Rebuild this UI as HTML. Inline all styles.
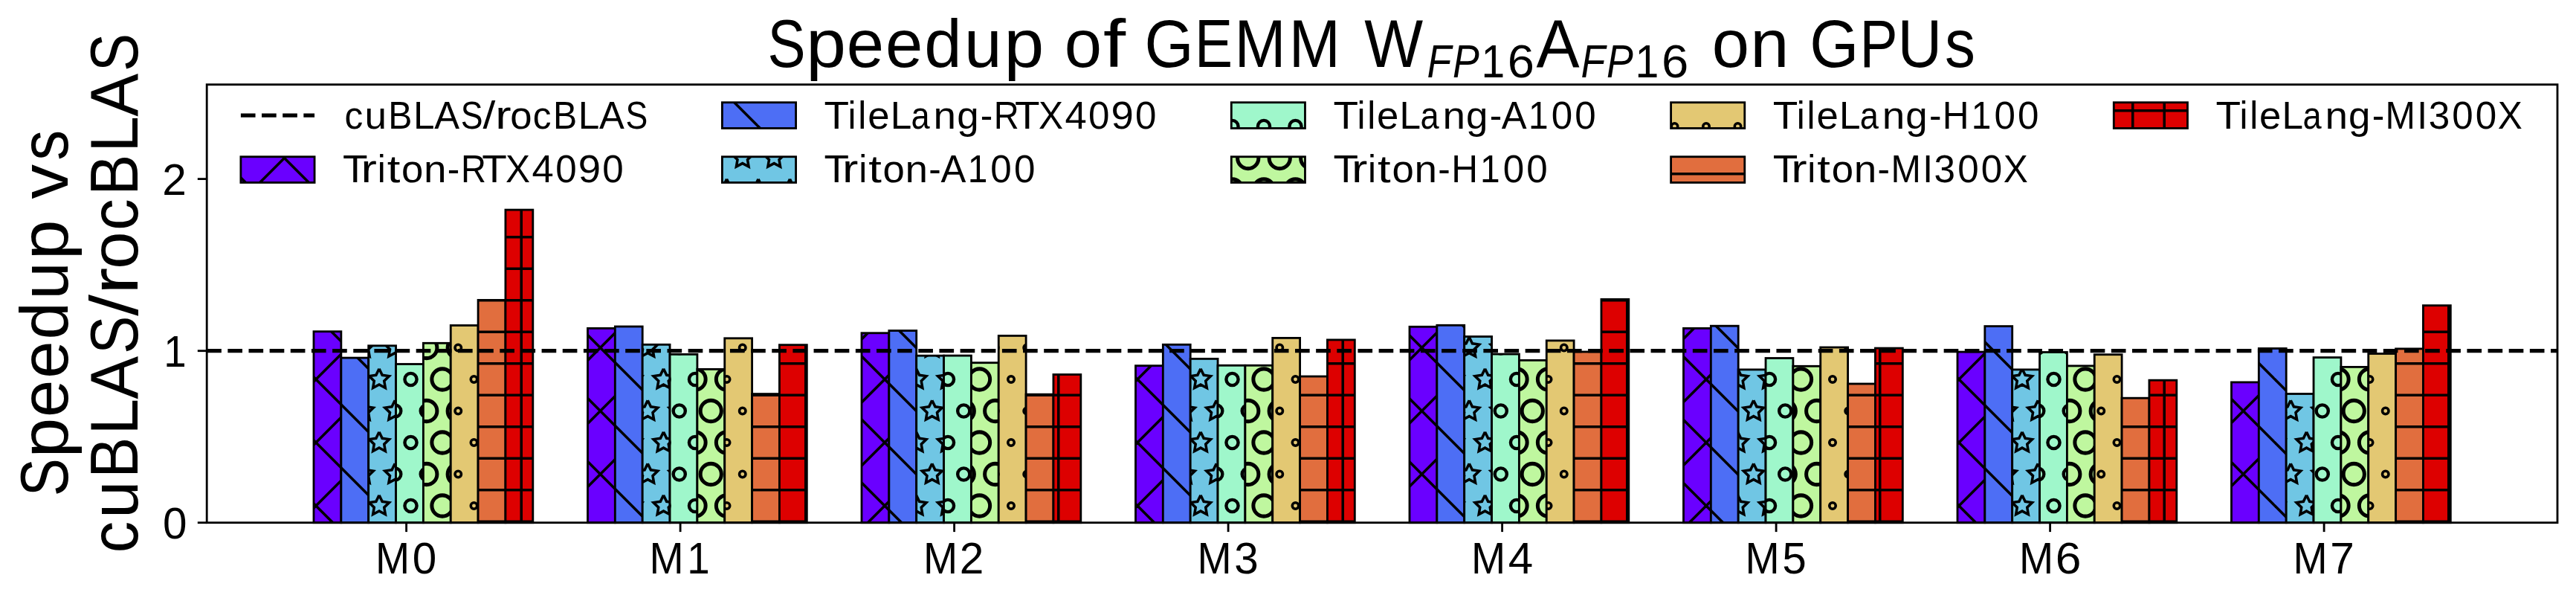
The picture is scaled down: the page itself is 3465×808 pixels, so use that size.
<!DOCTYPE html>
<html><head><meta charset="utf-8"><title>Speedup of GEMM on GPUs</title>
<style>
html,body{margin:0;padding:0;background:#fff;}
body{width:3465px;height:808px;overflow:hidden;}
svg{display:block;}
text{font-family:"Liberation Sans",sans-serif;fill:#000;white-space:pre;}
</style></head><body>
<svg width="3465" height="808" viewBox="0 0 3465 808">
<defs>
<pattern id="x" patternUnits="userSpaceOnUse" x="0" y="0" width="255" height="255"><g fill="none" stroke="#000" stroke-width="3.54" stroke-linecap="butt" stroke-linejoin="miter"><path d="M-65 -20L-360 275"/><path d="M20 -20L-275 275"/><path d="M105 -20L-190 275"/><path d="M190 -20L-105 275"/><path d="M275 -20L-20 275"/><path d="M360 -20L65 275"/><path d="M445 -20L150 275"/><path d="M530 -20L235 275"/><path d="M615 -20L320 275"/><path d="M-20 -360L275 -65"/><path d="M-20 -275L275 20"/><path d="M-20 -190L275 105"/><path d="M-20 -105L275 190"/><path d="M-20 -20L275 275"/><path d="M-20 65L275 360"/><path d="M-20 150L275 445"/><path d="M-20 235L275 530"/><path d="M-20 320L275 615"/></g></pattern><pattern id="bs" patternUnits="userSpaceOnUse" x="0" y="0" width="255" height="255"><g fill="none" stroke="#000" stroke-width="3.54" stroke-linecap="butt" stroke-linejoin="miter"><path d="M-20 -360L275 -65"/><path d="M-20 -275L275 20"/><path d="M-20 -190L275 105"/><path d="M-20 -105L275 190"/><path d="M-20 -20L275 275"/><path d="M-20 65L275 360"/><path d="M-20 150L275 445"/><path d="M-20 235L275 530"/><path d="M-20 320L275 615"/></g></pattern><pattern id="star" patternUnits="userSpaceOnUse" x="0" y="0" width="255" height="255"><g fill="none" stroke="#000" stroke-width="3.54" stroke-linecap="butt" stroke-linejoin="miter"><path d="M0 -14.17L-4.16 -5.73L-13.47 -4.38L-6.74 2.19L-8.33 11.46L-0 7.08L8.33 11.46L6.74 2.19L13.47 -4.38L4.16 -5.73L0 -14.17"/><path d="M42.5 -14.17L38.34 -5.73L29.03 -4.38L35.76 2.19L34.17 11.46L42.5 7.08L50.83 11.46L49.24 2.19L55.97 -4.38L46.66 -5.73L42.5 -14.17"/><path d="M85 -14.17L80.84 -5.73L71.53 -4.38L78.26 2.19L76.67 11.46L85 7.08L93.33 11.46L91.74 2.19L98.47 -4.38L89.16 -5.73L85 -14.17"/><path d="M127.5 -14.17L123.34 -5.73L114.03 -4.38L120.76 2.19L119.17 11.46L127.5 7.08L135.83 11.46L134.24 2.19L140.97 -4.38L131.66 -5.73L127.5 -14.17"/><path d="M170 -14.17L165.84 -5.73L156.53 -4.38L163.26 2.19L161.67 11.46L170 7.08L178.33 11.46L176.74 2.19L183.47 -4.38L174.16 -5.73L170 -14.17"/><path d="M212.5 -14.17L208.34 -5.73L199.03 -4.38L205.76 2.19L204.17 11.46L212.5 7.08L220.83 11.46L219.24 2.19L225.97 -4.38L216.66 -5.73L212.5 -14.17"/><path d="M255 -14.17L250.84 -5.73L241.53 -4.38L248.26 2.19L246.67 11.46L255 7.08L263.33 11.46L261.74 2.19L268.47 -4.38L259.16 -5.73L255 -14.17"/><path d="M21.25 28.33L17.09 36.77L7.78 38.12L14.51 44.69L12.92 53.96L21.25 49.58L29.58 53.96L27.99 44.69L34.72 38.12L25.41 36.77L21.25 28.33"/><path d="M63.75 28.33L59.59 36.77L50.28 38.12L57.01 44.69L55.42 53.96L63.75 49.58L72.08 53.96L70.49 44.69L77.22 38.12L67.91 36.77L63.75 28.33"/><path d="M106.25 28.33L102.09 36.77L92.78 38.12L99.51 44.69L97.92 53.96L106.25 49.58L114.58 53.96L112.99 44.69L119.72 38.12L110.41 36.77L106.25 28.33"/><path d="M148.75 28.33L144.59 36.77L135.28 38.12L142.01 44.69L140.42 53.96L148.75 49.58L157.08 53.96L155.49 44.69L162.22 38.12L152.91 36.77L148.75 28.33"/><path d="M191.25 28.33L187.09 36.77L177.78 38.12L184.51 44.69L182.92 53.96L191.25 49.58L199.58 53.96L197.99 44.69L204.72 38.12L195.41 36.77L191.25 28.33"/><path d="M233.75 28.33L229.59 36.77L220.28 38.12L227.01 44.69L225.42 53.96L233.75 49.58L242.08 53.96L240.49 44.69L247.22 38.12L237.91 36.77L233.75 28.33"/><path d="M0 70.83L-4.16 79.27L-13.47 80.62L-6.74 87.19L-8.33 96.46L-0 92.08L8.33 96.46L6.74 87.19L13.47 80.62L4.16 79.27L0 70.83"/><path d="M42.5 70.83L38.34 79.27L29.03 80.62L35.76 87.19L34.17 96.46L42.5 92.08L50.83 96.46L49.24 87.19L55.97 80.62L46.66 79.27L42.5 70.83"/><path d="M85 70.83L80.84 79.27L71.53 80.62L78.26 87.19L76.67 96.46L85 92.08L93.33 96.46L91.74 87.19L98.47 80.62L89.16 79.27L85 70.83"/><path d="M127.5 70.83L123.34 79.27L114.03 80.62L120.76 87.19L119.17 96.46L127.5 92.08L135.83 96.46L134.24 87.19L140.97 80.62L131.66 79.27L127.5 70.83"/><path d="M170 70.83L165.84 79.27L156.53 80.62L163.26 87.19L161.67 96.46L170 92.08L178.33 96.46L176.74 87.19L183.47 80.62L174.16 79.27L170 70.83"/><path d="M212.5 70.83L208.34 79.27L199.03 80.62L205.76 87.19L204.17 96.46L212.5 92.08L220.83 96.46L219.24 87.19L225.97 80.62L216.66 79.27L212.5 70.83"/><path d="M255 70.83L250.84 79.27L241.53 80.62L248.26 87.19L246.67 96.46L255 92.08L263.33 96.46L261.74 87.19L268.47 80.62L259.16 79.27L255 70.83"/><path d="M21.25 113.33L17.09 121.77L7.78 123.12L14.51 129.69L12.92 138.96L21.25 134.58L29.58 138.96L27.99 129.69L34.72 123.12L25.41 121.77L21.25 113.33"/><path d="M63.75 113.33L59.59 121.77L50.28 123.12L57.01 129.69L55.42 138.96L63.75 134.58L72.08 138.96L70.49 129.69L77.22 123.12L67.91 121.77L63.75 113.33"/><path d="M106.25 113.33L102.09 121.77L92.78 123.12L99.51 129.69L97.92 138.96L106.25 134.58L114.58 138.96L112.99 129.69L119.72 123.12L110.41 121.77L106.25 113.33"/><path d="M148.75 113.33L144.59 121.77L135.28 123.12L142.01 129.69L140.42 138.96L148.75 134.58L157.08 138.96L155.49 129.69L162.22 123.12L152.91 121.77L148.75 113.33"/><path d="M191.25 113.33L187.09 121.77L177.78 123.12L184.51 129.69L182.92 138.96L191.25 134.58L199.58 138.96L197.99 129.69L204.72 123.12L195.41 121.77L191.25 113.33"/><path d="M233.75 113.33L229.59 121.77L220.28 123.12L227.01 129.69L225.42 138.96L233.75 134.58L242.08 138.96L240.49 129.69L247.22 123.12L237.91 121.77L233.75 113.33"/><path d="M0 155.83L-4.16 164.27L-13.47 165.62L-6.74 172.19L-8.33 181.46L-0 177.08L8.33 181.46L6.74 172.19L13.47 165.62L4.16 164.27L0 155.83"/><path d="M42.5 155.83L38.34 164.27L29.03 165.62L35.76 172.19L34.17 181.46L42.5 177.08L50.83 181.46L49.24 172.19L55.97 165.62L46.66 164.27L42.5 155.83"/><path d="M85 155.83L80.84 164.27L71.53 165.62L78.26 172.19L76.67 181.46L85 177.08L93.33 181.46L91.74 172.19L98.47 165.62L89.16 164.27L85 155.83"/><path d="M127.5 155.83L123.34 164.27L114.03 165.62L120.76 172.19L119.17 181.46L127.5 177.08L135.83 181.46L134.24 172.19L140.97 165.62L131.66 164.27L127.5 155.83"/><path d="M170 155.83L165.84 164.27L156.53 165.62L163.26 172.19L161.67 181.46L170 177.08L178.33 181.46L176.74 172.19L183.47 165.62L174.16 164.27L170 155.83"/><path d="M212.5 155.83L208.34 164.27L199.03 165.62L205.76 172.19L204.17 181.46L212.5 177.08L220.83 181.46L219.24 172.19L225.97 165.62L216.66 164.27L212.5 155.83"/><path d="M255 155.83L250.84 164.27L241.53 165.62L248.26 172.19L246.67 181.46L255 177.08L263.33 181.46L261.74 172.19L268.47 165.62L259.16 164.27L255 155.83"/><path d="M21.25 198.33L17.09 206.77L7.78 208.12L14.51 214.69L12.92 223.96L21.25 219.58L29.58 223.96L27.99 214.69L34.72 208.12L25.41 206.77L21.25 198.33"/><path d="M63.75 198.33L59.59 206.77L50.28 208.12L57.01 214.69L55.42 223.96L63.75 219.58L72.08 223.96L70.49 214.69L77.22 208.12L67.91 206.77L63.75 198.33"/><path d="M106.25 198.33L102.09 206.77L92.78 208.12L99.51 214.69L97.92 223.96L106.25 219.58L114.58 223.96L112.99 214.69L119.72 208.12L110.41 206.77L106.25 198.33"/><path d="M148.75 198.33L144.59 206.77L135.28 208.12L142.01 214.69L140.42 223.96L148.75 219.58L157.08 223.96L155.49 214.69L162.22 208.12L152.91 206.77L148.75 198.33"/><path d="M191.25 198.33L187.09 206.77L177.78 208.12L184.51 214.69L182.92 223.96L191.25 219.58L199.58 223.96L197.99 214.69L204.72 208.12L195.41 206.77L191.25 198.33"/><path d="M233.75 198.33L229.59 206.77L220.28 208.12L227.01 214.69L225.42 223.96L233.75 219.58L242.08 223.96L240.49 214.69L247.22 208.12L237.91 206.77L233.75 198.33"/><path d="M0 240.83L-4.16 249.27L-13.47 250.62L-6.74 257.19L-8.33 266.46L-0 262.08L8.33 266.46L6.74 257.19L13.47 250.62L4.16 249.27L0 240.83"/><path d="M42.5 240.83L38.34 249.27L29.03 250.62L35.76 257.19L34.17 266.46L42.5 262.08L50.83 266.46L49.24 257.19L55.97 250.62L46.66 249.27L42.5 240.83"/><path d="M85 240.83L80.84 249.27L71.53 250.62L78.26 257.19L76.67 266.46L85 262.08L93.33 266.46L91.74 257.19L98.47 250.62L89.16 249.27L85 240.83"/><path d="M127.5 240.83L123.34 249.27L114.03 250.62L120.76 257.19L119.17 266.46L127.5 262.08L135.83 266.46L134.24 257.19L140.97 250.62L131.66 249.27L127.5 240.83"/><path d="M170 240.83L165.84 249.27L156.53 250.62L163.26 257.19L161.67 266.46L170 262.08L178.33 266.46L176.74 257.19L183.47 250.62L174.16 249.27L170 240.83"/><path d="M212.5 240.83L208.34 249.27L199.03 250.62L205.76 257.19L204.17 266.46L212.5 262.08L220.83 266.46L219.24 257.19L225.97 250.62L216.66 249.27L212.5 240.83"/><path d="M255 240.83L250.84 249.27L241.53 250.62L248.26 257.19L246.67 266.46L255 262.08L263.33 266.46L261.74 257.19L268.47 250.62L259.16 249.27L255 240.83"/></g></pattern><pattern id="o" patternUnits="userSpaceOnUse" x="0" y="0" width="255" height="255"><g fill="none" stroke="#000" stroke-width="3.54" stroke-linecap="butt" stroke-linejoin="miter"><circle cx="0" cy="0" r="8.08" stroke-width="4.39"/><circle cx="42.5" cy="0" r="8.08" stroke-width="4.39"/><circle cx="85" cy="0" r="8.08" stroke-width="4.39"/><circle cx="127.5" cy="0" r="8.08" stroke-width="4.39"/><circle cx="170" cy="0" r="8.08" stroke-width="4.39"/><circle cx="212.5" cy="0" r="8.08" stroke-width="4.39"/><circle cx="255" cy="0" r="8.08" stroke-width="4.39"/><circle cx="21.25" cy="42.5" r="8.08" stroke-width="4.39"/><circle cx="63.75" cy="42.5" r="8.08" stroke-width="4.39"/><circle cx="106.25" cy="42.5" r="8.08" stroke-width="4.39"/><circle cx="148.75" cy="42.5" r="8.08" stroke-width="4.39"/><circle cx="191.25" cy="42.5" r="8.08" stroke-width="4.39"/><circle cx="233.75" cy="42.5" r="8.08" stroke-width="4.39"/><circle cx="0" cy="85" r="8.08" stroke-width="4.39"/><circle cx="42.5" cy="85" r="8.08" stroke-width="4.39"/><circle cx="85" cy="85" r="8.08" stroke-width="4.39"/><circle cx="127.5" cy="85" r="8.08" stroke-width="4.39"/><circle cx="170" cy="85" r="8.08" stroke-width="4.39"/><circle cx="212.5" cy="85" r="8.08" stroke-width="4.39"/><circle cx="255" cy="85" r="8.08" stroke-width="4.39"/><circle cx="21.25" cy="127.5" r="8.08" stroke-width="4.39"/><circle cx="63.75" cy="127.5" r="8.08" stroke-width="4.39"/><circle cx="106.25" cy="127.5" r="8.08" stroke-width="4.39"/><circle cx="148.75" cy="127.5" r="8.08" stroke-width="4.39"/><circle cx="191.25" cy="127.5" r="8.08" stroke-width="4.39"/><circle cx="233.75" cy="127.5" r="8.08" stroke-width="4.39"/><circle cx="0" cy="170" r="8.08" stroke-width="4.39"/><circle cx="42.5" cy="170" r="8.08" stroke-width="4.39"/><circle cx="85" cy="170" r="8.08" stroke-width="4.39"/><circle cx="127.5" cy="170" r="8.08" stroke-width="4.39"/><circle cx="170" cy="170" r="8.08" stroke-width="4.39"/><circle cx="212.5" cy="170" r="8.08" stroke-width="4.39"/><circle cx="255" cy="170" r="8.08" stroke-width="4.39"/><circle cx="21.25" cy="212.5" r="8.08" stroke-width="4.39"/><circle cx="63.75" cy="212.5" r="8.08" stroke-width="4.39"/><circle cx="106.25" cy="212.5" r="8.08" stroke-width="4.39"/><circle cx="148.75" cy="212.5" r="8.08" stroke-width="4.39"/><circle cx="191.25" cy="212.5" r="8.08" stroke-width="4.39"/><circle cx="233.75" cy="212.5" r="8.08" stroke-width="4.39"/><circle cx="0" cy="255" r="8.08" stroke-width="4.39"/><circle cx="42.5" cy="255" r="8.08" stroke-width="4.39"/><circle cx="85" cy="255" r="8.08" stroke-width="4.39"/><circle cx="127.5" cy="255" r="8.08" stroke-width="4.39"/><circle cx="170" cy="255" r="8.08" stroke-width="4.39"/><circle cx="212.5" cy="255" r="8.08" stroke-width="4.39"/><circle cx="255" cy="255" r="8.08" stroke-width="4.39"/></g></pattern><pattern id="O" patternUnits="userSpaceOnUse" x="0" y="0" width="255" height="255"><g fill="none" stroke="#000" stroke-width="3.54" stroke-linecap="butt" stroke-linejoin="miter"><circle cx="0" cy="0" r="14.13" stroke-width="5.03"/><circle cx="42.5" cy="0" r="14.13" stroke-width="5.03"/><circle cx="85" cy="0" r="14.13" stroke-width="5.03"/><circle cx="127.5" cy="0" r="14.13" stroke-width="5.03"/><circle cx="170" cy="0" r="14.13" stroke-width="5.03"/><circle cx="212.5" cy="0" r="14.13" stroke-width="5.03"/><circle cx="255" cy="0" r="14.13" stroke-width="5.03"/><circle cx="21.25" cy="42.5" r="14.13" stroke-width="5.03"/><circle cx="63.75" cy="42.5" r="14.13" stroke-width="5.03"/><circle cx="106.25" cy="42.5" r="14.13" stroke-width="5.03"/><circle cx="148.75" cy="42.5" r="14.13" stroke-width="5.03"/><circle cx="191.25" cy="42.5" r="14.13" stroke-width="5.03"/><circle cx="233.75" cy="42.5" r="14.13" stroke-width="5.03"/><circle cx="0" cy="85" r="14.13" stroke-width="5.03"/><circle cx="42.5" cy="85" r="14.13" stroke-width="5.03"/><circle cx="85" cy="85" r="14.13" stroke-width="5.03"/><circle cx="127.5" cy="85" r="14.13" stroke-width="5.03"/><circle cx="170" cy="85" r="14.13" stroke-width="5.03"/><circle cx="212.5" cy="85" r="14.13" stroke-width="5.03"/><circle cx="255" cy="85" r="14.13" stroke-width="5.03"/><circle cx="21.25" cy="127.5" r="14.13" stroke-width="5.03"/><circle cx="63.75" cy="127.5" r="14.13" stroke-width="5.03"/><circle cx="106.25" cy="127.5" r="14.13" stroke-width="5.03"/><circle cx="148.75" cy="127.5" r="14.13" stroke-width="5.03"/><circle cx="191.25" cy="127.5" r="14.13" stroke-width="5.03"/><circle cx="233.75" cy="127.5" r="14.13" stroke-width="5.03"/><circle cx="0" cy="170" r="14.13" stroke-width="5.03"/><circle cx="42.5" cy="170" r="14.13" stroke-width="5.03"/><circle cx="85" cy="170" r="14.13" stroke-width="5.03"/><circle cx="127.5" cy="170" r="14.13" stroke-width="5.03"/><circle cx="170" cy="170" r="14.13" stroke-width="5.03"/><circle cx="212.5" cy="170" r="14.13" stroke-width="5.03"/><circle cx="255" cy="170" r="14.13" stroke-width="5.03"/><circle cx="21.25" cy="212.5" r="14.13" stroke-width="5.03"/><circle cx="63.75" cy="212.5" r="14.13" stroke-width="5.03"/><circle cx="106.25" cy="212.5" r="14.13" stroke-width="5.03"/><circle cx="148.75" cy="212.5" r="14.13" stroke-width="5.03"/><circle cx="191.25" cy="212.5" r="14.13" stroke-width="5.03"/><circle cx="233.75" cy="212.5" r="14.13" stroke-width="5.03"/><circle cx="0" cy="255" r="14.13" stroke-width="5.03"/><circle cx="42.5" cy="255" r="14.13" stroke-width="5.03"/><circle cx="85" cy="255" r="14.13" stroke-width="5.03"/><circle cx="127.5" cy="255" r="14.13" stroke-width="5.03"/><circle cx="170" cy="255" r="14.13" stroke-width="5.03"/><circle cx="212.5" cy="255" r="14.13" stroke-width="5.03"/><circle cx="255" cy="255" r="14.13" stroke-width="5.03"/></g></pattern><pattern id="dot" patternUnits="userSpaceOnUse" x="0" y="0" width="255" height="255"><g fill="none" stroke="#000" stroke-width="3.54" stroke-linecap="butt" stroke-linejoin="miter"><circle cx="0" cy="0" r="4.25" stroke-width="3.54"/><circle cx="42.5" cy="0" r="4.25" stroke-width="3.54"/><circle cx="85" cy="0" r="4.25" stroke-width="3.54"/><circle cx="127.5" cy="0" r="4.25" stroke-width="3.54"/><circle cx="170" cy="0" r="4.25" stroke-width="3.54"/><circle cx="212.5" cy="0" r="4.25" stroke-width="3.54"/><circle cx="255" cy="0" r="4.25" stroke-width="3.54"/><circle cx="21.25" cy="42.5" r="4.25" stroke-width="3.54"/><circle cx="63.75" cy="42.5" r="4.25" stroke-width="3.54"/><circle cx="106.25" cy="42.5" r="4.25" stroke-width="3.54"/><circle cx="148.75" cy="42.5" r="4.25" stroke-width="3.54"/><circle cx="191.25" cy="42.5" r="4.25" stroke-width="3.54"/><circle cx="233.75" cy="42.5" r="4.25" stroke-width="3.54"/><circle cx="0" cy="85" r="4.25" stroke-width="3.54"/><circle cx="42.5" cy="85" r="4.25" stroke-width="3.54"/><circle cx="85" cy="85" r="4.25" stroke-width="3.54"/><circle cx="127.5" cy="85" r="4.25" stroke-width="3.54"/><circle cx="170" cy="85" r="4.25" stroke-width="3.54"/><circle cx="212.5" cy="85" r="4.25" stroke-width="3.54"/><circle cx="255" cy="85" r="4.25" stroke-width="3.54"/><circle cx="21.25" cy="127.5" r="4.25" stroke-width="3.54"/><circle cx="63.75" cy="127.5" r="4.25" stroke-width="3.54"/><circle cx="106.25" cy="127.5" r="4.25" stroke-width="3.54"/><circle cx="148.75" cy="127.5" r="4.25" stroke-width="3.54"/><circle cx="191.25" cy="127.5" r="4.25" stroke-width="3.54"/><circle cx="233.75" cy="127.5" r="4.25" stroke-width="3.54"/><circle cx="0" cy="170" r="4.25" stroke-width="3.54"/><circle cx="42.5" cy="170" r="4.25" stroke-width="3.54"/><circle cx="85" cy="170" r="4.25" stroke-width="3.54"/><circle cx="127.5" cy="170" r="4.25" stroke-width="3.54"/><circle cx="170" cy="170" r="4.25" stroke-width="3.54"/><circle cx="212.5" cy="170" r="4.25" stroke-width="3.54"/><circle cx="255" cy="170" r="4.25" stroke-width="3.54"/><circle cx="21.25" cy="212.5" r="4.25" stroke-width="3.54"/><circle cx="63.75" cy="212.5" r="4.25" stroke-width="3.54"/><circle cx="106.25" cy="212.5" r="4.25" stroke-width="3.54"/><circle cx="148.75" cy="212.5" r="4.25" stroke-width="3.54"/><circle cx="191.25" cy="212.5" r="4.25" stroke-width="3.54"/><circle cx="233.75" cy="212.5" r="4.25" stroke-width="3.54"/><circle cx="0" cy="255" r="4.25" stroke-width="3.54"/><circle cx="42.5" cy="255" r="4.25" stroke-width="3.54"/><circle cx="85" cy="255" r="4.25" stroke-width="3.54"/><circle cx="127.5" cy="255" r="4.25" stroke-width="3.54"/><circle cx="170" cy="255" r="4.25" stroke-width="3.54"/><circle cx="212.5" cy="255" r="4.25" stroke-width="3.54"/><circle cx="255" cy="255" r="4.25" stroke-width="3.54"/></g></pattern><pattern id="h" patternUnits="userSpaceOnUse" x="0" y="0" width="255" height="255"><g fill="none" stroke="#000" stroke-width="3.54" stroke-linecap="butt" stroke-linejoin="miter"><path d="M-5 21.25H260"/><path d="M-5 63.75H260"/><path d="M-5 106.25H260"/><path d="M-5 148.75H260"/><path d="M-5 191.25H260"/><path d="M-5 233.75H260"/></g></pattern><pattern id="plus" patternUnits="userSpaceOnUse" x="0" y="0" width="255" height="255"><g fill="none" stroke="#000" stroke-width="3.54" stroke-linecap="butt" stroke-linejoin="miter"><path d="M-5 21.25H260"/><path d="M-5 63.75H260"/><path d="M-5 106.25H260"/><path d="M-5 148.75H260"/><path d="M-5 191.25H260"/><path d="M-5 233.75H260"/><path d="M21.25 -5V260"/><path d="M63.75 -5V260"/><path d="M106.25 -5V260"/><path d="M148.75 -5V260"/><path d="M191.25 -5V260"/><path d="M233.75 -5V260"/></g></pattern>
</defs>
<rect x="0" y="0" width="3465" height="808" fill="#fff"/>
<rect x="422" y="445.7" width="36.85" height="257" fill="#6a00ff"/><rect x="422" y="445.7" width="36.85" height="257" fill="url(#x)"/><rect x="422" y="445.7" width="36.85" height="257" fill="none" stroke="#000" stroke-width="2.83" stroke-linejoin="miter"/>
<rect x="790.5" y="441.4" width="36.85" height="261.3" fill="#6a00ff"/><rect x="790.5" y="441.4" width="36.85" height="261.3" fill="url(#x)"/><rect x="790.5" y="441.4" width="36.85" height="261.3" fill="none" stroke="#000" stroke-width="2.83" stroke-linejoin="miter"/>
<rect x="1159" y="447.75" width="36.85" height="254.95" fill="#6a00ff"/><rect x="1159" y="447.75" width="36.85" height="254.95" fill="url(#x)"/><rect x="1159" y="447.75" width="36.85" height="254.95" fill="none" stroke="#000" stroke-width="2.83" stroke-linejoin="miter"/>
<rect x="1527.5" y="491.7" width="36.85" height="211" fill="#6a00ff"/><rect x="1527.5" y="491.7" width="36.85" height="211" fill="url(#x)"/><rect x="1527.5" y="491.7" width="36.85" height="211" fill="none" stroke="#000" stroke-width="2.83" stroke-linejoin="miter"/>
<rect x="1896" y="439.3" width="36.85" height="263.4" fill="#6a00ff"/><rect x="1896" y="439.3" width="36.85" height="263.4" fill="url(#x)"/><rect x="1896" y="439.3" width="36.85" height="263.4" fill="none" stroke="#000" stroke-width="2.83" stroke-linejoin="miter"/>
<rect x="2264.5" y="441.4" width="36.85" height="261.3" fill="#6a00ff"/><rect x="2264.5" y="441.4" width="36.85" height="261.3" fill="url(#x)"/><rect x="2264.5" y="441.4" width="36.85" height="261.3" fill="none" stroke="#000" stroke-width="2.83" stroke-linejoin="miter"/>
<rect x="2633" y="473.1" width="36.85" height="229.6" fill="#6a00ff"/><rect x="2633" y="473.1" width="36.85" height="229.6" fill="url(#x)"/><rect x="2633" y="473.1" width="36.85" height="229.6" fill="none" stroke="#000" stroke-width="2.83" stroke-linejoin="miter"/>
<rect x="3001.5" y="513.9" width="36.85" height="188.8" fill="#6a00ff"/><rect x="3001.5" y="513.9" width="36.85" height="188.8" fill="url(#x)"/><rect x="3001.5" y="513.9" width="36.85" height="188.8" fill="none" stroke="#000" stroke-width="2.83" stroke-linejoin="miter"/>
<rect x="458.85" y="481.1" width="36.85" height="221.6" fill="#4d6ef5"/><rect x="458.85" y="481.1" width="36.85" height="221.6" fill="url(#bs)"/><rect x="458.85" y="481.1" width="36.85" height="221.6" fill="none" stroke="#000" stroke-width="2.83" stroke-linejoin="miter"/>
<rect x="827.35" y="439" width="36.85" height="263.7" fill="#4d6ef5"/><rect x="827.35" y="439" width="36.85" height="263.7" fill="url(#bs)"/><rect x="827.35" y="439" width="36.85" height="263.7" fill="none" stroke="#000" stroke-width="2.83" stroke-linejoin="miter"/>
<rect x="1195.85" y="444.55" width="36.85" height="258.15" fill="#4d6ef5"/><rect x="1195.85" y="444.55" width="36.85" height="258.15" fill="url(#bs)"/><rect x="1195.85" y="444.55" width="36.85" height="258.15" fill="none" stroke="#000" stroke-width="2.83" stroke-linejoin="miter"/>
<rect x="1564.35" y="463.3" width="36.85" height="239.4" fill="#4d6ef5"/><rect x="1564.35" y="463.3" width="36.85" height="239.4" fill="url(#bs)"/><rect x="1564.35" y="463.3" width="36.85" height="239.4" fill="none" stroke="#000" stroke-width="2.83" stroke-linejoin="miter"/>
<rect x="1932.85" y="437.3" width="36.85" height="265.4" fill="#4d6ef5"/><rect x="1932.85" y="437.3" width="36.85" height="265.4" fill="url(#bs)"/><rect x="1932.85" y="437.3" width="36.85" height="265.4" fill="none" stroke="#000" stroke-width="2.83" stroke-linejoin="miter"/>
<rect x="2301.35" y="438.2" width="36.85" height="264.5" fill="#4d6ef5"/><rect x="2301.35" y="438.2" width="36.85" height="264.5" fill="url(#bs)"/><rect x="2301.35" y="438.2" width="36.85" height="264.5" fill="none" stroke="#000" stroke-width="2.83" stroke-linejoin="miter"/>
<rect x="2669.85" y="438.6" width="36.85" height="264.1" fill="#4d6ef5"/><rect x="2669.85" y="438.6" width="36.85" height="264.1" fill="url(#bs)"/><rect x="2669.85" y="438.6" width="36.85" height="264.1" fill="none" stroke="#000" stroke-width="2.83" stroke-linejoin="miter"/>
<rect x="3038.35" y="468.5" width="36.85" height="234.2" fill="#4d6ef5"/><rect x="3038.35" y="468.5" width="36.85" height="234.2" fill="url(#bs)"/><rect x="3038.35" y="468.5" width="36.85" height="234.2" fill="none" stroke="#000" stroke-width="2.83" stroke-linejoin="miter"/>
<rect x="495.7" y="464.8" width="36.85" height="237.9" fill="#70c6e4"/><rect x="495.7" y="464.8" width="36.85" height="237.9" fill="url(#star)"/><rect x="495.7" y="464.8" width="36.85" height="237.9" fill="none" stroke="#000" stroke-width="2.83" stroke-linejoin="miter"/>
<rect x="864.2" y="463.3" width="36.85" height="239.4" fill="#70c6e4"/><rect x="864.2" y="463.3" width="36.85" height="239.4" fill="url(#star)"/><rect x="864.2" y="463.3" width="36.85" height="239.4" fill="none" stroke="#000" stroke-width="2.83" stroke-linejoin="miter"/>
<rect x="1232.7" y="478.2" width="36.85" height="224.5" fill="#70c6e4"/><rect x="1232.7" y="478.2" width="36.85" height="224.5" fill="url(#star)"/><rect x="1232.7" y="478.2" width="36.85" height="224.5" fill="none" stroke="#000" stroke-width="2.83" stroke-linejoin="miter"/>
<rect x="1601.2" y="482.4" width="36.85" height="220.3" fill="#70c6e4"/><rect x="1601.2" y="482.4" width="36.85" height="220.3" fill="url(#star)"/><rect x="1601.2" y="482.4" width="36.85" height="220.3" fill="none" stroke="#000" stroke-width="2.83" stroke-linejoin="miter"/>
<rect x="1969.7" y="452.5" width="36.85" height="250.2" fill="#70c6e4"/><rect x="1969.7" y="452.5" width="36.85" height="250.2" fill="url(#star)"/><rect x="1969.7" y="452.5" width="36.85" height="250.2" fill="none" stroke="#000" stroke-width="2.83" stroke-linejoin="miter"/>
<rect x="2338.2" y="496.9" width="36.85" height="205.8" fill="#70c6e4"/><rect x="2338.2" y="496.9" width="36.85" height="205.8" fill="url(#star)"/><rect x="2338.2" y="496.9" width="36.85" height="205.8" fill="none" stroke="#000" stroke-width="2.83" stroke-linejoin="miter"/>
<rect x="2706.7" y="496.9" width="36.85" height="205.8" fill="#70c6e4"/><rect x="2706.7" y="496.9" width="36.85" height="205.8" fill="url(#star)"/><rect x="2706.7" y="496.9" width="36.85" height="205.8" fill="none" stroke="#000" stroke-width="2.83" stroke-linejoin="miter"/>
<rect x="3075.2" y="529.5" width="36.85" height="173.2" fill="#70c6e4"/><rect x="3075.2" y="529.5" width="36.85" height="173.2" fill="url(#star)"/><rect x="3075.2" y="529.5" width="36.85" height="173.2" fill="none" stroke="#000" stroke-width="2.83" stroke-linejoin="miter"/>
<rect x="532.55" y="489.5" width="36.85" height="213.2" fill="#9ff7cb"/><rect x="532.55" y="489.5" width="36.85" height="213.2" fill="url(#o)"/><rect x="532.55" y="489.5" width="36.85" height="213.2" fill="none" stroke="#000" stroke-width="2.83" stroke-linejoin="miter"/>
<rect x="901.05" y="476.4" width="36.85" height="226.3" fill="#9ff7cb"/><rect x="901.05" y="476.4" width="36.85" height="226.3" fill="url(#o)"/><rect x="901.05" y="476.4" width="36.85" height="226.3" fill="none" stroke="#000" stroke-width="2.83" stroke-linejoin="miter"/>
<rect x="1269.55" y="478.1" width="36.85" height="224.6" fill="#9ff7cb"/><rect x="1269.55" y="478.1" width="36.85" height="224.6" fill="url(#o)"/><rect x="1269.55" y="478.1" width="36.85" height="224.6" fill="none" stroke="#000" stroke-width="2.83" stroke-linejoin="miter"/>
<rect x="1638.05" y="491.3" width="36.85" height="211.4" fill="#9ff7cb"/><rect x="1638.05" y="491.3" width="36.85" height="211.4" fill="url(#o)"/><rect x="1638.05" y="491.3" width="36.85" height="211.4" fill="none" stroke="#000" stroke-width="2.83" stroke-linejoin="miter"/>
<rect x="2006.55" y="476.05" width="36.85" height="226.65" fill="#9ff7cb"/><rect x="2006.55" y="476.05" width="36.85" height="226.65" fill="url(#o)"/><rect x="2006.55" y="476.05" width="36.85" height="226.65" fill="none" stroke="#000" stroke-width="2.83" stroke-linejoin="miter"/>
<rect x="2375.05" y="481.5" width="36.85" height="221.2" fill="#9ff7cb"/><rect x="2375.05" y="481.5" width="36.85" height="221.2" fill="url(#o)"/><rect x="2375.05" y="481.5" width="36.85" height="221.2" fill="none" stroke="#000" stroke-width="2.83" stroke-linejoin="miter"/>
<rect x="2743.55" y="473.5" width="36.85" height="229.2" fill="#9ff7cb"/><rect x="2743.55" y="473.5" width="36.85" height="229.2" fill="url(#o)"/><rect x="2743.55" y="473.5" width="36.85" height="229.2" fill="none" stroke="#000" stroke-width="2.83" stroke-linejoin="miter"/>
<rect x="3112.05" y="480.6" width="36.85" height="222.1" fill="#9ff7cb"/><rect x="3112.05" y="480.6" width="36.85" height="222.1" fill="url(#o)"/><rect x="3112.05" y="480.6" width="36.85" height="222.1" fill="none" stroke="#000" stroke-width="2.83" stroke-linejoin="miter"/>
<rect x="569.4" y="461.3" width="36.85" height="241.4" fill="#bff79f"/><rect x="569.4" y="461.3" width="36.85" height="241.4" fill="url(#O)"/><rect x="569.4" y="461.3" width="36.85" height="241.4" fill="none" stroke="#000" stroke-width="2.83" stroke-linejoin="miter"/>
<rect x="937.9" y="496.4" width="36.85" height="206.3" fill="#bff79f"/><rect x="937.9" y="496.4" width="36.85" height="206.3" fill="url(#O)"/><rect x="937.9" y="496.4" width="36.85" height="206.3" fill="none" stroke="#000" stroke-width="2.83" stroke-linejoin="miter"/>
<rect x="1306.4" y="487.7" width="36.85" height="215" fill="#bff79f"/><rect x="1306.4" y="487.7" width="36.85" height="215" fill="url(#O)"/><rect x="1306.4" y="487.7" width="36.85" height="215" fill="none" stroke="#000" stroke-width="2.83" stroke-linejoin="miter"/>
<rect x="1674.9" y="491.3" width="36.85" height="211.4" fill="#bff79f"/><rect x="1674.9" y="491.3" width="36.85" height="211.4" fill="url(#O)"/><rect x="1674.9" y="491.3" width="36.85" height="211.4" fill="none" stroke="#000" stroke-width="2.83" stroke-linejoin="miter"/>
<rect x="2043.4" y="484.4" width="36.85" height="218.3" fill="#bff79f"/><rect x="2043.4" y="484.4" width="36.85" height="218.3" fill="url(#O)"/><rect x="2043.4" y="484.4" width="36.85" height="218.3" fill="none" stroke="#000" stroke-width="2.83" stroke-linejoin="miter"/>
<rect x="2411.9" y="492.3" width="36.85" height="210.4" fill="#bff79f"/><rect x="2411.9" y="492.3" width="36.85" height="210.4" fill="url(#O)"/><rect x="2411.9" y="492.3" width="36.85" height="210.4" fill="none" stroke="#000" stroke-width="2.83" stroke-linejoin="miter"/>
<rect x="2780.4" y="491.9" width="36.85" height="210.8" fill="#bff79f"/><rect x="2780.4" y="491.9" width="36.85" height="210.8" fill="url(#O)"/><rect x="2780.4" y="491.9" width="36.85" height="210.8" fill="none" stroke="#000" stroke-width="2.83" stroke-linejoin="miter"/>
<rect x="3148.9" y="493.4" width="36.85" height="209.3" fill="#bff79f"/><rect x="3148.9" y="493.4" width="36.85" height="209.3" fill="url(#O)"/><rect x="3148.9" y="493.4" width="36.85" height="209.3" fill="none" stroke="#000" stroke-width="2.83" stroke-linejoin="miter"/>
<rect x="606.25" y="437.5" width="36.85" height="265.2" fill="#e3c873"/><rect x="606.25" y="437.5" width="36.85" height="265.2" fill="url(#dot)"/><rect x="606.25" y="437.5" width="36.85" height="265.2" fill="none" stroke="#000" stroke-width="2.83" stroke-linejoin="miter"/>
<rect x="974.75" y="454.8" width="36.85" height="247.9" fill="#e3c873"/><rect x="974.75" y="454.8" width="36.85" height="247.9" fill="url(#dot)"/><rect x="974.75" y="454.8" width="36.85" height="247.9" fill="none" stroke="#000" stroke-width="2.83" stroke-linejoin="miter"/>
<rect x="1343.25" y="451.4" width="36.85" height="251.3" fill="#e3c873"/><rect x="1343.25" y="451.4" width="36.85" height="251.3" fill="url(#dot)"/><rect x="1343.25" y="451.4" width="36.85" height="251.3" fill="none" stroke="#000" stroke-width="2.83" stroke-linejoin="miter"/>
<rect x="1711.75" y="454.4" width="36.85" height="248.3" fill="#e3c873"/><rect x="1711.75" y="454.4" width="36.85" height="248.3" fill="url(#dot)"/><rect x="1711.75" y="454.4" width="36.85" height="248.3" fill="none" stroke="#000" stroke-width="2.83" stroke-linejoin="miter"/>
<rect x="2080.25" y="457.9" width="36.85" height="244.8" fill="#e3c873"/><rect x="2080.25" y="457.9" width="36.85" height="244.8" fill="url(#dot)"/><rect x="2080.25" y="457.9" width="36.85" height="244.8" fill="none" stroke="#000" stroke-width="2.83" stroke-linejoin="miter"/>
<rect x="2448.75" y="467" width="36.85" height="235.7" fill="#e3c873"/><rect x="2448.75" y="467" width="36.85" height="235.7" fill="url(#dot)"/><rect x="2448.75" y="467" width="36.85" height="235.7" fill="none" stroke="#000" stroke-width="2.83" stroke-linejoin="miter"/>
<rect x="2817.25" y="476.7" width="36.85" height="226" fill="#e3c873"/><rect x="2817.25" y="476.7" width="36.85" height="226" fill="url(#dot)"/><rect x="2817.25" y="476.7" width="36.85" height="226" fill="none" stroke="#000" stroke-width="2.83" stroke-linejoin="miter"/>
<rect x="3185.75" y="475.5" width="36.85" height="227.2" fill="#e3c873"/><rect x="3185.75" y="475.5" width="36.85" height="227.2" fill="url(#dot)"/><rect x="3185.75" y="475.5" width="36.85" height="227.2" fill="none" stroke="#000" stroke-width="2.83" stroke-linejoin="miter"/>
<rect x="643.1" y="403.4" width="36.85" height="299.3" fill="#e16e3e"/><rect x="643.1" y="403.4" width="36.85" height="299.3" fill="url(#h)"/><rect x="643.1" y="403.4" width="36.85" height="299.3" fill="none" stroke="#000" stroke-width="2.83" stroke-linejoin="miter"/>
<rect x="1011.6" y="529.6" width="36.85" height="173.1" fill="#e16e3e"/><rect x="1011.6" y="529.6" width="36.85" height="173.1" fill="url(#h)"/><rect x="1011.6" y="529.6" width="36.85" height="173.1" fill="none" stroke="#000" stroke-width="2.83" stroke-linejoin="miter"/>
<rect x="1380.1" y="530.2" width="36.85" height="172.5" fill="#e16e3e"/><rect x="1380.1" y="530.2" width="36.85" height="172.5" fill="url(#h)"/><rect x="1380.1" y="530.2" width="36.85" height="172.5" fill="none" stroke="#000" stroke-width="2.83" stroke-linejoin="miter"/>
<rect x="1748.6" y="506.05" width="36.85" height="196.65" fill="#e16e3e"/><rect x="1748.6" y="506.05" width="36.85" height="196.65" fill="url(#h)"/><rect x="1748.6" y="506.05" width="36.85" height="196.65" fill="none" stroke="#000" stroke-width="2.83" stroke-linejoin="miter"/>
<rect x="2117.1" y="473" width="36.85" height="229.7" fill="#e16e3e"/><rect x="2117.1" y="473" width="36.85" height="229.7" fill="url(#h)"/><rect x="2117.1" y="473" width="36.85" height="229.7" fill="none" stroke="#000" stroke-width="2.83" stroke-linejoin="miter"/>
<rect x="2485.6" y="516" width="36.85" height="186.7" fill="#e16e3e"/><rect x="2485.6" y="516" width="36.85" height="186.7" fill="url(#h)"/><rect x="2485.6" y="516" width="36.85" height="186.7" fill="none" stroke="#000" stroke-width="2.83" stroke-linejoin="miter"/>
<rect x="2854.1" y="535.2" width="36.85" height="167.5" fill="#e16e3e"/><rect x="2854.1" y="535.2" width="36.85" height="167.5" fill="url(#h)"/><rect x="2854.1" y="535.2" width="36.85" height="167.5" fill="none" stroke="#000" stroke-width="2.83" stroke-linejoin="miter"/>
<rect x="3222.6" y="468.9" width="36.85" height="233.8" fill="#e16e3e"/><rect x="3222.6" y="468.9" width="36.85" height="233.8" fill="url(#h)"/><rect x="3222.6" y="468.9" width="36.85" height="233.8" fill="none" stroke="#000" stroke-width="2.83" stroke-linejoin="miter"/>
<rect x="679.95" y="282.1" width="36.85" height="420.6" fill="#dd0000"/><rect x="679.95" y="282.1" width="36.85" height="420.6" fill="url(#plus)"/><rect x="679.95" y="282.1" width="36.85" height="420.6" fill="none" stroke="#000" stroke-width="2.83" stroke-linejoin="miter"/>
<rect x="1048.45" y="463.7" width="36.85" height="239" fill="#dd0000"/><rect x="1048.45" y="463.7" width="36.85" height="239" fill="url(#plus)"/><rect x="1048.45" y="463.7" width="36.85" height="239" fill="none" stroke="#000" stroke-width="2.83" stroke-linejoin="miter"/>
<rect x="1416.95" y="503.55" width="36.85" height="199.15" fill="#dd0000"/><rect x="1416.95" y="503.55" width="36.85" height="199.15" fill="url(#plus)"/><rect x="1416.95" y="503.55" width="36.85" height="199.15" fill="none" stroke="#000" stroke-width="2.83" stroke-linejoin="miter"/>
<rect x="1785.45" y="456.9" width="36.85" height="245.8" fill="#dd0000"/><rect x="1785.45" y="456.9" width="36.85" height="245.8" fill="url(#plus)"/><rect x="1785.45" y="456.9" width="36.85" height="245.8" fill="none" stroke="#000" stroke-width="2.83" stroke-linejoin="miter"/>
<rect x="2153.95" y="402.4" width="36.85" height="300.3" fill="#dd0000"/><rect x="2153.95" y="402.4" width="36.85" height="300.3" fill="url(#plus)"/><rect x="2153.95" y="402.4" width="36.85" height="300.3" fill="none" stroke="#000" stroke-width="2.83" stroke-linejoin="miter"/>
<rect x="2522.45" y="468.1" width="36.85" height="234.6" fill="#dd0000"/><rect x="2522.45" y="468.1" width="36.85" height="234.6" fill="url(#plus)"/><rect x="2522.45" y="468.1" width="36.85" height="234.6" fill="none" stroke="#000" stroke-width="2.83" stroke-linejoin="miter"/>
<rect x="2890.95" y="511.2" width="36.85" height="191.5" fill="#dd0000"/><rect x="2890.95" y="511.2" width="36.85" height="191.5" fill="url(#plus)"/><rect x="2890.95" y="511.2" width="36.85" height="191.5" fill="none" stroke="#000" stroke-width="2.83" stroke-linejoin="miter"/>
<rect x="3259.45" y="410.7" width="36.85" height="292" fill="#dd0000"/><rect x="3259.45" y="410.7" width="36.85" height="292" fill="url(#plus)"/><rect x="3259.45" y="410.7" width="36.85" height="292" fill="none" stroke="#000" stroke-width="2.83" stroke-linejoin="miter"/>
<path d="M278.2 471.7H3440" stroke="#000" stroke-width="5.31" stroke-dasharray="19.655 8.495" fill="none"/>
<path d="M278.2 702.7h-12.4" stroke="#000" stroke-width="2.83"/>
<path d="M278.2 471.7h-12.4" stroke="#000" stroke-width="2.83"/>
<path d="M278.2 240.6h-12.4" stroke="#000" stroke-width="2.83"/>
<path d="M546.6 702.7v12.4" stroke="#000" stroke-width="2.83"/>
<path d="M915.1 702.7v12.4" stroke="#000" stroke-width="2.83"/>
<path d="M1283.6 702.7v12.4" stroke="#000" stroke-width="2.83"/>
<path d="M1652.1 702.7v12.4" stroke="#000" stroke-width="2.83"/>
<path d="M2020.6 702.7v12.4" stroke="#000" stroke-width="2.83"/>
<path d="M2389.1 702.7v12.4" stroke="#000" stroke-width="2.83"/>
<path d="M2757.6 702.7v12.4" stroke="#000" stroke-width="2.83"/>
<path d="M3126.1 702.7v12.4" stroke="#000" stroke-width="2.83"/>
<rect x="278.2" y="113.7" width="3161.8" height="589" fill="none" stroke="#000" stroke-width="2.83" stroke-linejoin="miter"/>
<path d="M323.9 155.1h99.17" stroke="#000" stroke-width="5.31" stroke-dasharray="19.655 8.495" fill="none"/>
<rect x="323.9" y="210.74" width="99.17" height="34.71" fill="#6a00ff"/><rect x="323.9" y="210.74" width="99.17" height="34.71" fill="url(#x)"/><rect x="323.9" y="210.74" width="99.17" height="34.71" fill="none" stroke="#000" stroke-width="2.83" stroke-linejoin="miter"/>
<rect x="971.4" y="137.74" width="99.17" height="34.71" fill="#4d6ef5"/><rect x="971.4" y="137.74" width="99.17" height="34.71" fill="url(#bs)"/><rect x="971.4" y="137.74" width="99.17" height="34.71" fill="none" stroke="#000" stroke-width="2.83" stroke-linejoin="miter"/>
<rect x="971.4" y="210.74" width="99.17" height="34.71" fill="#70c6e4"/><rect x="971.4" y="210.74" width="99.17" height="34.71" fill="url(#star)"/><rect x="971.4" y="210.74" width="99.17" height="34.71" fill="none" stroke="#000" stroke-width="2.83" stroke-linejoin="miter"/>
<rect x="1656.3" y="137.74" width="99.17" height="34.71" fill="#9ff7cb"/><rect x="1656.3" y="137.74" width="99.17" height="34.71" fill="url(#o)"/><rect x="1656.3" y="137.74" width="99.17" height="34.71" fill="none" stroke="#000" stroke-width="2.83" stroke-linejoin="miter"/>
<rect x="1656.3" y="210.74" width="99.17" height="34.71" fill="#bff79f"/><rect x="1656.3" y="210.74" width="99.17" height="34.71" fill="url(#O)"/><rect x="1656.3" y="210.74" width="99.17" height="34.71" fill="none" stroke="#000" stroke-width="2.83" stroke-linejoin="miter"/>
<rect x="2247.6" y="137.74" width="99.17" height="34.71" fill="#e3c873"/><rect x="2247.6" y="137.74" width="99.17" height="34.71" fill="url(#dot)"/><rect x="2247.6" y="137.74" width="99.17" height="34.71" fill="none" stroke="#000" stroke-width="2.83" stroke-linejoin="miter"/>
<rect x="2247.6" y="210.74" width="99.17" height="34.71" fill="#e16e3e"/><rect x="2247.6" y="210.74" width="99.17" height="34.71" fill="url(#h)"/><rect x="2247.6" y="210.74" width="99.17" height="34.71" fill="none" stroke="#000" stroke-width="2.83" stroke-linejoin="miter"/>
<rect x="2843.3" y="137.74" width="99.17" height="34.71" fill="#dd0000"/><rect x="2843.3" y="137.74" width="99.17" height="34.71" fill="url(#plus)"/><rect x="2843.3" y="137.74" width="99.17" height="34.71" fill="none" stroke="#000" stroke-width="2.83" stroke-linejoin="miter"/>
<g transform="translate(0 89.8)" font-size="90.07"><text transform="translate(1032.44 0) scale(0.8500 1)">S</text><text transform="translate(1084.2 0) scale(1.0731 1)">p</text><text transform="translate(1138.68 0) scale(1.0039 1)">e</text><text transform="translate(1190.93 0) scale(1.0039 1)">e</text><text transform="translate(1243.19 0) scale(1.0059 1)">d</text><text transform="translate(1296.9 0) scale(1.0104 1)">u</text><text transform="translate(1350.38 0) scale(1.0731 1)">p</text><text transform="translate(1431.85 0) scale(1.0039 1)">o</text><text transform="translate(1483.99 0) scale(1.2050 1)">f</text><text transform="translate(1539.57 0) scale(0.9430 1)">G</text><text transform="translate(1607 0) scale(0.8500 1)">E</text><text transform="translate(1660.53 0) scale(0.9216 1)">M</text><text transform="translate(1733.81 0) scale(0.9216 1)">M</text><text transform="translate(1835.27 0) scale(0.9276 1)">W</text></g>
<g transform="translate(0 103.5)" font-size="63.05" font-style="italic"><text transform="translate(1919.54 0) scale(0.8500 1)">F</text><text transform="translate(1953.95 0) scale(0.8500 1)">P</text></g>
<g transform="translate(0 103.5)" font-size="63.05"><text transform="translate(1992.42 0) scale(0.9039 1)">1</text><text transform="translate(2027.72 0) scale(1.0298 1)">6</text></g>
<g transform="translate(0 89.8)" font-size="90.07"><text transform="translate(2066.6 0) scale(0.9667 1)">A</text></g>
<g transform="translate(0 103.5)" font-size="63.05" font-style="italic"><text transform="translate(2126.49 0) scale(0.8500 1)">F</text><text transform="translate(2161 0) scale(0.8500 1)">P</text></g>
<g transform="translate(0 103.5)" font-size="63.05"><text transform="translate(2199.52 0) scale(0.9065 1)">1</text><text transform="translate(2234.93 0) scale(1.0328 1)">6</text></g>
<g transform="translate(0 89.8)" font-size="90.07"><text transform="translate(2302.68 0) scale(1.0028 1)">o</text><text transform="translate(2354.19 0) scale(1.0430 1)">n</text><text transform="translate(2434.18 0) scale(0.9421 1)">G</text><text transform="translate(2501.52 0) scale(0.8500 1)">P</text><text transform="translate(2552.56 0) scale(0.9173 1)">U</text><text transform="translate(2615.9 0) scale(0.9096 1)">s</text></g>
<g transform="translate(90.5 0) rotate(-90)" font-size="90.07"><text transform="translate(-667.35 0) scale(0.8500 1)">S</text><text transform="translate(-615.57 0) scale(1.0738 1)">p</text><text transform="translate(-561.06 0) scale(1.0045 1)">e</text><text transform="translate(-508.77 0) scale(1.0045 1)">e</text><text transform="translate(-456.49 0) scale(1.0065 1)">d</text><text transform="translate(-402.74 0) scale(1.0110 1)">u</text><text transform="translate(-349.23 0) scale(1.0738 1)">p</text><text transform="translate(-267.53 0) scale(1.0321 1)">v</text><text transform="translate(-215.86 0) scale(0.9111 1)">s</text></g>
<g transform="translate(185.4 0) rotate(-90)" font-size="90.07"><text transform="translate(-743.35 0) scale(0.9429 1)">c</text><text transform="translate(-697.04 0) scale(1.0102 1)">u</text><text transform="translate(-642.65 0) scale(0.9159 1)">B</text><text transform="translate(-584.81 0) scale(0.9754 1)">L</text><text transform="translate(-536.65 0) scale(0.9648 1)">A</text><text transform="translate(-475.81 0) scale(0.8500 1)">S</text><text transform="translate(-424.65 0) scale(1.1524 1)">/</text><text transform="translate(-396.27 0) scale(1.2200 1)">r</text><text transform="translate(-361.83 0) scale(1.0037 1)">o</text><text transform="translate(-309.7 0) scale(0.9429 1)">c</text><text transform="translate(-262.82 0) scale(0.9159 1)">B</text><text transform="translate(-204.98 0) scale(0.9754 1)">L</text><text transform="translate(-156.82 0) scale(0.9648 1)">A</text><text transform="translate(-95.98 0) scale(0.8500 1)">S</text></g>
<g transform="translate(0 724.3)" font-size="60.05"><text transform="translate(219.07 0) scale(0.9732 1)">0</text></g>
<g transform="translate(0 493.3)" font-size="60.05"><text transform="translate(220.13 0) scale(0.9112 1)">1</text></g>
<g transform="translate(0 262.2)" font-size="60.05"><text transform="translate(218.15 0) scale(0.9752 1)">2</text></g>
<g transform="translate(0 770.8)" font-size="60.05"><text transform="translate(505.11 0) scale(0.9223 1)">M</text><text transform="translate(554.73 0) scale(0.9732 1)">0</text></g>
<g transform="translate(0 770.8)" font-size="60.05"><text transform="translate(873.61 0) scale(0.9223 1)">M</text><text transform="translate(924.3 0) scale(0.9112 1)">1</text></g>
<g transform="translate(0 770.8)" font-size="60.05"><text transform="translate(1242.11 0) scale(0.9223 1)">M</text><text transform="translate(1290.82 0) scale(0.9752 1)">2</text></g>
<g transform="translate(0 770.8)" font-size="60.05"><text transform="translate(1610.61 0) scale(0.9223 1)">M</text><text transform="translate(1660.23 0) scale(0.9742 1)">3</text></g>
<g transform="translate(0 770.8)" font-size="60.05"><text transform="translate(1979.11 0) scale(0.9223 1)">M</text><text transform="translate(2028.74 0) scale(1.0009 1)">4</text></g>
<g transform="translate(0 770.8)" font-size="60.05"><text transform="translate(2347.61 0) scale(0.9223 1)">M</text><text transform="translate(2397.23 0) scale(0.9742 1)">5</text></g>
<g transform="translate(0 770.8)" font-size="60.05"><text transform="translate(2716.11 0) scale(0.9223 1)">M</text><text transform="translate(2764.64 0) scale(1.0381 1)">6</text></g>
<g transform="translate(0 770.8)" font-size="60.05"><text transform="translate(3084.61 0) scale(0.9223 1)">M</text><text transform="translate(3134.2 0) scale(0.9752 1)">7</text></g>
<g transform="translate(0 172.6)" font-size="52.54"><text transform="translate(463.51 0) scale(0.9437 1)">c</text><text transform="translate(490.55 0) scale(1.0111 1)">u</text><text transform="translate(522.31 0) scale(0.9168 1)">B</text><text transform="translate(556.08 0) scale(0.9763 1)">L</text><text transform="translate(584.2 0) scale(0.9657 1)">A</text><text transform="translate(619.74 0) scale(0.8500 1)">S</text><text transform="translate(649.59 0) scale(1.1535 1)">/</text><text transform="translate(666.18 0) scale(1.2200 1)">r</text><text transform="translate(686.27 0) scale(1.0046 1)">o</text><text transform="translate(716.71 0) scale(0.9437 1)">c</text><text transform="translate(744.08 0) scale(0.9168 1)">B</text><text transform="translate(777.85 0) scale(0.9763 1)">L</text><text transform="translate(805.97 0) scale(0.9657 1)">A</text><text transform="translate(841.51 0) scale(0.8500 1)">S</text></g>
<g transform="translate(0 245.4)" font-size="52.54"><text transform="translate(461.1 0) scale(1.0458 1)">T</text><text transform="translate(485.61 0) scale(1.2200 1)">r</text><text transform="translate(507.67 0) scale(0.9437 1)">i</text><text transform="translate(520.67 0) scale(1.2059 1)">t</text><text transform="translate(540.01 0) scale(1.0046 1)">o</text><text transform="translate(570.12 0) scale(1.0449 1)">n</text><text transform="translate(601.87 0) scale(0.9437 1)">-</text><text transform="translate(619.96 0) scale(0.8953 1)">R</text><text transform="translate(648.2 0) scale(1.0458 1)">T</text><text transform="translate(680.12 0) scale(0.9437 1)">X</text><text transform="translate(715.59 0) scale(1.0009 1)">4</text><text transform="translate(747.14 0) scale(0.9732 1)">0</text><text transform="translate(777.73 0) scale(1.0381 1)">9</text><text transform="translate(810.23 0) scale(0.9732 1)">0</text></g>
<g transform="translate(0 172.6)" font-size="52.54"><text transform="translate(1108.6 0) scale(1.0458 1)">T</text><text transform="translate(1140.55 0) scale(0.9437 1)">i</text><text transform="translate(1154.32 0) scale(0.9437 1)">l</text><text transform="translate(1167.22 0) scale(1.0046 1)">e</text><text transform="translate(1197.7 0) scale(0.9763 1)">L</text><text transform="translate(1225.59 0) scale(0.8605 1)">a</text><text transform="translate(1255.51 0) scale(1.0449 1)">n</text><text transform="translate(1287.16 0) scale(1.0067 1)">g</text><text transform="translate(1318.74 0) scale(0.9437 1)">-</text><text transform="translate(1336.83 0) scale(0.8953 1)">R</text><text transform="translate(1365.07 0) scale(1.0458 1)">T</text><text transform="translate(1396.99 0) scale(0.9437 1)">X</text><text transform="translate(1432.46 0) scale(1.0009 1)">4</text><text transform="translate(1464 0) scale(0.9732 1)">0</text><text transform="translate(1494.59 0) scale(1.0381 1)">9</text><text transform="translate(1527.1 0) scale(0.9732 1)">0</text></g>
<g transform="translate(0 245.4)" font-size="52.54"><text transform="translate(1108.6 0) scale(1.0458 1)">T</text><text transform="translate(1133.11 0) scale(1.2200 1)">r</text><text transform="translate(1155.17 0) scale(0.9437 1)">i</text><text transform="translate(1168.17 0) scale(1.2059 1)">t</text><text transform="translate(1187.51 0) scale(1.0046 1)">o</text><text transform="translate(1217.62 0) scale(1.0449 1)">n</text><text transform="translate(1249.37 0) scale(0.9437 1)">-</text><text transform="translate(1265.4 0) scale(0.9657 1)">A</text><text transform="translate(1301.75 0) scale(0.9112 1)">1</text><text transform="translate(1332.37 0) scale(0.9732 1)">0</text><text transform="translate(1363.92 0) scale(0.9732 1)">0</text></g>
<g transform="translate(0 172.6)" font-size="52.54"><text transform="translate(1793.5 0) scale(1.0458 1)">T</text><text transform="translate(1825.45 0) scale(0.9437 1)">i</text><text transform="translate(1839.22 0) scale(0.9437 1)">l</text><text transform="translate(1852.12 0) scale(1.0046 1)">e</text><text transform="translate(1882.6 0) scale(0.9763 1)">L</text><text transform="translate(1910.49 0) scale(0.8605 1)">a</text><text transform="translate(1940.41 0) scale(1.0449 1)">n</text><text transform="translate(1972.06 0) scale(1.0067 1)">g</text><text transform="translate(2003.64 0) scale(0.9437 1)">-</text><text transform="translate(2019.67 0) scale(0.9657 1)">A</text><text transform="translate(2056.02 0) scale(0.9112 1)">1</text><text transform="translate(2086.63 0) scale(0.9732 1)">0</text><text transform="translate(2118.18 0) scale(0.9732 1)">0</text></g>
<g transform="translate(0 245.4)" font-size="52.54"><text transform="translate(1793.5 0) scale(1.0458 1)">T</text><text transform="translate(1818.01 0) scale(1.2200 1)">r</text><text transform="translate(1840.07 0) scale(0.9437 1)">i</text><text transform="translate(1853.07 0) scale(1.2059 1)">t</text><text transform="translate(1872.41 0) scale(1.0046 1)">o</text><text transform="translate(1902.52 0) scale(1.0449 1)">n</text><text transform="translate(1934.27 0) scale(0.9437 1)">-</text><text transform="translate(1952.17 0) scale(0.9437 1)">H</text><text transform="translate(1991.11 0) scale(0.9112 1)">1</text><text transform="translate(2021.72 0) scale(0.9732 1)">0</text><text transform="translate(2053.27 0) scale(0.9732 1)">0</text></g>
<g transform="translate(0 172.6)" font-size="52.54"><text transform="translate(2384.8 0) scale(1.0458 1)">T</text><text transform="translate(2416.75 0) scale(0.9437 1)">i</text><text transform="translate(2430.52 0) scale(0.9437 1)">l</text><text transform="translate(2443.42 0) scale(1.0046 1)">e</text><text transform="translate(2473.9 0) scale(0.9763 1)">L</text><text transform="translate(2501.79 0) scale(0.8605 1)">a</text><text transform="translate(2531.71 0) scale(1.0449 1)">n</text><text transform="translate(2563.36 0) scale(1.0067 1)">g</text><text transform="translate(2594.94 0) scale(0.9437 1)">-</text><text transform="translate(2612.83 0) scale(0.9437 1)">H</text><text transform="translate(2651.77 0) scale(0.9112 1)">1</text><text transform="translate(2682.39 0) scale(0.9732 1)">0</text><text transform="translate(2713.93 0) scale(0.9732 1)">0</text></g>
<g transform="translate(0 245.4)" font-size="52.54"><text transform="translate(2384.8 0) scale(1.0458 1)">T</text><text transform="translate(2409.31 0) scale(1.2200 1)">r</text><text transform="translate(2431.37 0) scale(0.9437 1)">i</text><text transform="translate(2444.37 0) scale(1.2059 1)">t</text><text transform="translate(2463.71 0) scale(1.0046 1)">o</text><text transform="translate(2493.82 0) scale(1.0449 1)">n</text><text transform="translate(2525.57 0) scale(0.9437 1)">-</text><text transform="translate(2543.55 0) scale(0.9223 1)">M</text><text transform="translate(2586.25 0) scale(0.9437 1)">I</text><text transform="translate(2601.59 0) scale(0.9742 1)">3</text><text transform="translate(2633.14 0) scale(0.9732 1)">0</text><text transform="translate(2664.69 0) scale(0.9732 1)">0</text><text transform="translate(2694.74 0) scale(0.9437 1)">X</text></g>
<g transform="translate(0 172.6)" font-size="52.54"><text transform="translate(2980.5 0) scale(1.0458 1)">T</text><text transform="translate(3012.45 0) scale(0.9437 1)">i</text><text transform="translate(3026.22 0) scale(0.9437 1)">l</text><text transform="translate(3039.12 0) scale(1.0046 1)">e</text><text transform="translate(3069.6 0) scale(0.9763 1)">L</text><text transform="translate(3097.49 0) scale(0.8605 1)">a</text><text transform="translate(3127.41 0) scale(1.0449 1)">n</text><text transform="translate(3159.06 0) scale(1.0067 1)">g</text><text transform="translate(3190.64 0) scale(0.9437 1)">-</text><text transform="translate(3208.62 0) scale(0.9223 1)">M</text><text transform="translate(3251.31 0) scale(0.9437 1)">I</text><text transform="translate(3266.66 0) scale(0.9742 1)">3</text><text transform="translate(3298.21 0) scale(0.9732 1)">0</text><text transform="translate(3329.75 0) scale(0.9732 1)">0</text><text transform="translate(3359.8 0) scale(0.9437 1)">X</text></g>
</svg>
</body></html>
